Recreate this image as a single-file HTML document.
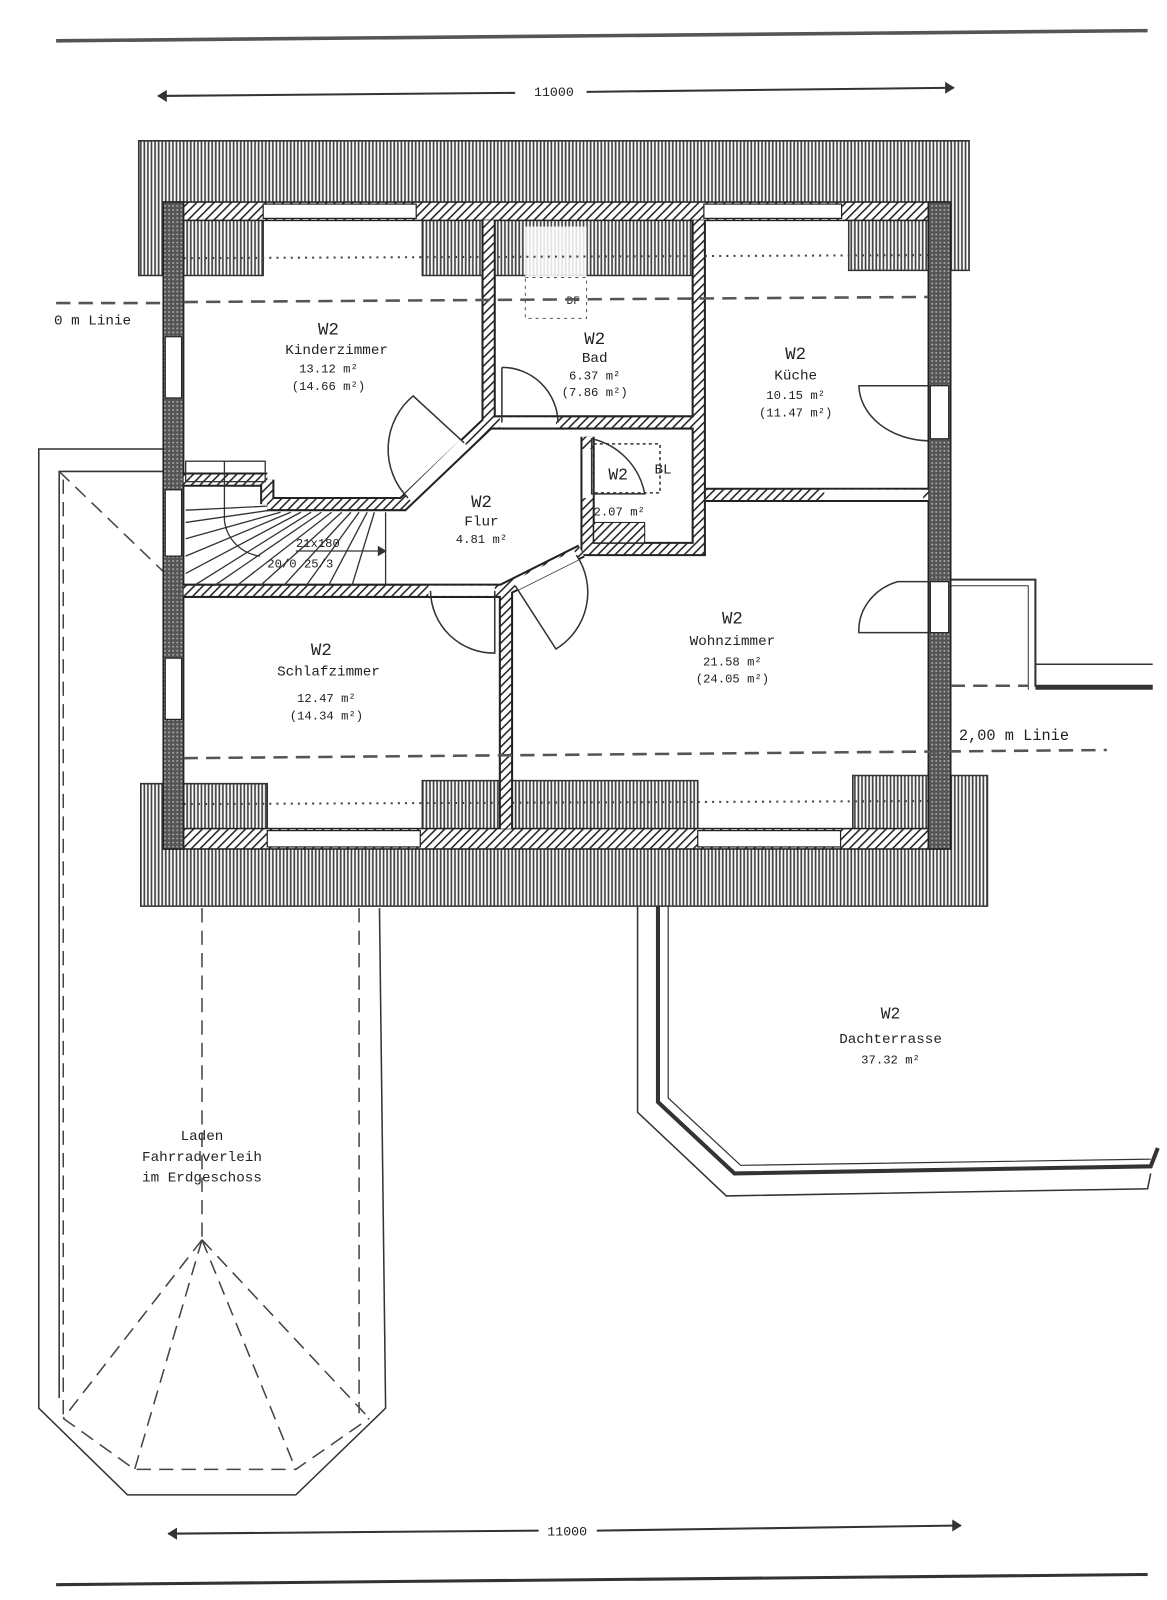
<!DOCTYPE html>
<html><head><meta charset="utf-8"><style>
html,body{margin:0;padding:0;background:#fff;}
svg{display:block;}
text{font-family:"Liberation Mono",monospace;fill:#222;}
</style></head><body>
<svg width="1167" height="1600" viewBox="0 0 1144 1568" preserveAspectRatio="none" xmlns="http://www.w3.org/2000/svg">
<defs>
<pattern id="vl" width="3.5" height="10" patternUnits="userSpaceOnUse"><rect width="3.5" height="10" fill="#fff"/><line x1="1.5" y1="0" x2="1.5" y2="10" stroke="#444" stroke-width="1.7"/></pattern>
<pattern id="dg" width="6" height="6" patternUnits="userSpaceOnUse" patternTransform="rotate(45)"><rect width="6" height="6" fill="#fff"/><line x1="0" y1="0" x2="0" y2="6" stroke="#222" stroke-width="3"/></pattern>
<pattern id="sp" width="4" height="4" patternUnits="userSpaceOnUse"><rect width="4" height="4" fill="#555"/><rect x="1" y="1" width="1.5" height="1.5" fill="#bbb"/></pattern>
</defs>
<g fill="none" stroke="#333">
<line x1="55" y1="40" x2="1125" y2="30" stroke-width="3.5" stroke="#555"/>
<line x1="55" y1="1553" x2="1125" y2="1543" stroke-width="3" stroke="#333"/>
<line x1="155" y1="94" x2="505" y2="91" stroke-width="2"/>
<line x1="575" y1="90" x2="935" y2="86" stroke-width="2"/>
<path d="M155 94 l8 -5 v10z M935 86 l-8 -5 v10z" fill="#333"/>
<line x1="165" y1="1503" x2="528" y2="1500" stroke-width="2"/>
<line x1="585" y1="1500" x2="942" y2="1495" stroke-width="2"/>
<path d="M165 1503 l8 -5 v10z M942 1495 l-8 -5 v10z" fill="#333"/>
</g>
<text x="543" y="94" font-size="13" text-anchor="middle">11000</text>
<text x="556" y="1505" font-size="13" text-anchor="middle">11000</text>

<g fill="none" stroke="#333" stroke-width="1.5">
<polyline points="160,440 38,440 38,1380 125,1465 290,1465 378,1380 372,890"/>
<polyline points="160,462 58,462 58,1370"/>
</g>
<g fill="none" stroke="#444" stroke-width="1.5" stroke-dasharray="14,8">
<line x1="58" y1="462" x2="160" y2="560"/>
<line x1="62" y1="470" x2="62" y2="1390"/>
<line x1="352" y1="890" x2="352" y2="1385"/>
<line x1="198" y1="890" x2="198" y2="1215"/>
<polyline points="62,1390 132,1440 290,1440 362,1390"/>
<line x1="198" y1="1215" x2="62" y2="1390"/>
<line x1="198" y1="1215" x2="132" y2="1440"/>
<line x1="198" y1="1215" x2="290" y2="1440"/>
<line x1="198" y1="1215" x2="362" y2="1390"/>
</g>
<text x="198" y="1117" font-size="14" text-anchor="middle">Laden</text>
<text x="198" y="1138" font-size="14" text-anchor="middle">Fahrradverleih</text>
<text x="198" y="1158" font-size="14" text-anchor="middle">im Erdgeschoss</text>

<g fill="none" stroke="#333">
<polyline points="625,888 625,1090 712,1172 1125,1165 1128,1150" stroke-width="1.5"/>
<polyline points="645,888 645,1080 720,1150 1128,1143 1135,1125" stroke-width="4"/>
<polyline points="655,888 655,1076 726,1142 1128,1136" stroke-width="1.2"/>
</g>
<text x="873" y="998" font-size="16" text-anchor="middle">W2</text>
<text x="873" y="1022" font-size="14" text-anchor="middle">Dachterrasse</text>
<text x="873" y="1042" font-size="12" text-anchor="middle">37.32 m²</text>

<g fill="none" stroke="#333">
<polyline points="930,568 1015,568 1015,672 1130,672" stroke-width="2"/>
<polyline points="932,574 1008,574 1008,676" stroke-width="1"/>
<line x1="1015" y1="651" x2="1130" y2="651" stroke-width="1.5"/>
<line x1="1015" y1="674" x2="1130" y2="674" stroke-width="4"/>
</g>

<path d="M136 138 H950 V265 H832 V212 H690 V270 H414 V212 H258 V270 H136 Z" fill="url(#vl)" stroke="#333" stroke-width="1.5"/>
<path d="M138 768 H262 V830 H414 V765 H684 V830 H836 V760 H968 V888 H138 Z" fill="url(#vl)" stroke="#333" stroke-width="1.5"/>
<rect x="515" y="222" width="60" height="50" fill="#fff" opacity="0.85"/>
<rect x="515" y="272" width="60" height="40" fill="none" stroke="#555" stroke-dasharray="3,4"/>
<text x="562" y="298" font-size="11" text-anchor="middle">DF</text>

<line x1="180" y1="253" x2="912" y2="250" stroke="#444" stroke-width="2" stroke-dasharray="2,5"/>
<line x1="180" y1="788" x2="912" y2="785" stroke="#444" stroke-width="2" stroke-dasharray="2,5"/>

<g>
<rect x="160" y="198" width="770" height="18" fill="url(#dg)" stroke="#222" stroke-width="1.5"/>
<rect x="160" y="812" width="770" height="20" fill="url(#dg)" stroke="#222" stroke-width="1.5"/>
<rect x="160" y="198" width="20" height="634" fill="url(#sp)" stroke="#222" stroke-width="1.5"/>
<rect x="910" y="198" width="22" height="634" fill="url(#sp)" stroke="#222" stroke-width="1.5"/>
<g fill="#fff" stroke="#222" stroke-width="1.2">
<rect x="162" y="330" width="16" height="60"/>
<rect x="162" y="480" width="16" height="65"/>
<rect x="162" y="645" width="16" height="60"/>
<rect x="912" y="378" width="18" height="52"/>
<rect x="912" y="570" width="18" height="50"/>
<rect x="258" y="200" width="150" height="14"/>
<rect x="690" y="200" width="135" height="14"/>
<rect x="262" y="814" width="150" height="16"/>
<rect x="684" y="814" width="140" height="16"/>
</g>
</g>

<g fill="none" stroke-linejoin="miter">
<g stroke="#222" stroke-width="14">
<polyline points="479,216 479,414 685,414"/>
<polyline points="685,216 685,538 576,538 576,428"/>
<line x1="692" y1="485" x2="910" y2="485"/>
<polyline points="262,494 395,494 479,414"/>
<line x1="180" y1="579" x2="492" y2="579"/>
<polyline points="492,579 570,540"/>
<line x1="496" y1="579" x2="496" y2="812"/>
<line x1="180" y1="470" x2="262" y2="470"/>
<line x1="262" y1="470" x2="262" y2="494"/>
</g>
<g stroke="url(#dg)" stroke-width="10">
<polyline points="479,216 479,414 685,414"/>
<polyline points="685,216 685,538 576,538 576,428"/>
<line x1="692" y1="485" x2="910" y2="485"/>
<polyline points="262,494 395,494 479,414"/>
<line x1="180" y1="579" x2="492" y2="579"/>
<polyline points="492,579 570,540"/>
<line x1="496" y1="579" x2="496" y2="812"/>
<line x1="180" y1="470" x2="262" y2="470"/>
<line x1="262" y1="470" x2="262" y2="494"/>
</g>
<g stroke="#fff" stroke-width="10">
<line x1="490" y1="414" x2="545" y2="414"/>
<line x1="400" y1="488" x2="455" y2="434"/>
<line x1="808" y1="485" x2="905" y2="485"/>
<line x1="420" y1="579" x2="485" y2="579"/>
<line x1="505" y1="574" x2="565" y2="544"/>
<line x1="576" y1="440" x2="576" y2="488"/>
</g>
</g>
<g fill="none" stroke="#333" stroke-width="1.5">
<path d="M492 360 A55 55 0 0 1 547 414 M492 360 V414"/>
<path d="M455 434 L405 388 A68 68 0 0 0 400 488"/>
<path d="M910 378 H842 A70 55 0 0 0 910 432"/>
<path d="M485 579 V640 A62 62 0 0 1 422 579"/>
<path d="M505 574 L545 636 A65 65 0 0 0 565 544"/>
<path d="M910 570 H880 A55 50 0 0 0 842 620 H910"/>
<path d="M580 430 A68 68 0 0 1 632 484 H580 Z"/>
<rect x="582" y="435" width="65" height="48" stroke-dasharray="3,3"/>
</g>
<rect x="582" y="512" width="50" height="20" fill="url(#dg)" stroke="#222"/>
<g stroke="#333" stroke-width="1.3" fill="none">
<rect x="182" y="452" width="78" height="20"/>
<line x1="220" y1="452" x2="220" y2="510"/>
<line x1="182" y1="500" x2="262" y2="496"/>
<line x1="182" y1="512" x2="265" y2="500"/>
<line x1="182" y1="528" x2="275" y2="502"/>
<line x1="182" y1="545" x2="285" y2="502"/>
<line x1="182" y1="562" x2="295" y2="502"/>
<line x1="190" y1="574" x2="305" y2="502"/>
<line x1="210" y1="574" x2="315" y2="502"/>
<line x1="232" y1="574" x2="325" y2="502"/>
<line x1="255" y1="574" x2="335" y2="502"/>
<line x1="278" y1="574" x2="344" y2="502"/>
<line x1="300" y1="574" x2="352" y2="502"/>
<line x1="322" y1="574" x2="360" y2="502"/>
<line x1="345" y1="574" x2="367" y2="502"/>
<line x1="378" y1="502" x2="378" y2="574"/>
<path d="M220 510 A40 40 0 0 0 255 545"/>
<line x1="290" y1="540" x2="378" y2="540"/>
<path d="M378 540 l-7 -4 v8z" fill="#333"/>
</g>
<text x="290" y="536" font-size="12">21x180</text>
<text x="262" y="556" font-size="12">20/0 25/3</text>

<g stroke="#555" stroke-width="2.5" stroke-dasharray="14,8" fill="none">
<line x1="55" y1="297" x2="160" y2="297"/>
<line x1="180" y1="296" x2="910" y2="291"/>
<line x1="180" y1="743" x2="1085" y2="735"/>
<line x1="932" y1="672" x2="1008" y2="672"/>
</g>
<text x="53" y="318" font-size="14">0 m Linie</text>
<text x="940" y="725" font-size="15">2,00 m Linie</text>

<g font-size="14" text-anchor="middle">
<text x="322" y="328" font-size="17">W2</text>
<text x="330" y="347">Kinderzimmer</text>
<text x="322" y="365" font-size="12">13.12 m²</text>
<text x="322" y="382" font-size="12">(14.66 m²)</text>
<text x="583" y="337" font-size="17">W2</text>
<text x="583" y="355">Bad</text>
<text x="583" y="372" font-size="12">6.37 m²</text>
<text x="583" y="388" font-size="12">(7.86 m²)</text>
<text x="780" y="352" font-size="17">W2</text>
<text x="780" y="372">Küche</text>
<text x="780" y="391" font-size="12">10.15 m²</text>
<text x="780" y="408" font-size="12">(11.47 m²)</text>
<text x="472" y="497" font-size="17">W2</text>
<text x="472" y="515">Flur</text>
<text x="472" y="532" font-size="12">4.81 m²</text>
<text x="606" y="470" font-size="16">W2</text>
<text x="650" y="464">BL</text>
<text x="607" y="505" font-size="12">2.07 m²</text>
<text x="718" y="611" font-size="17">W2</text>
<text x="718" y="632">Wohnzimmer</text>
<text x="718" y="652" font-size="12">21.58 m²</text>
<text x="718" y="669" font-size="12">(24.05 m²)</text>
<text x="315" y="642" font-size="17">W2</text>
<text x="322" y="662">Schlafzimmer</text>
<text x="320" y="688" font-size="12">12.47 m²</text>
<text x="320" y="705" font-size="12">(14.34 m²)</text>
</g>
</svg>
</body></html>
